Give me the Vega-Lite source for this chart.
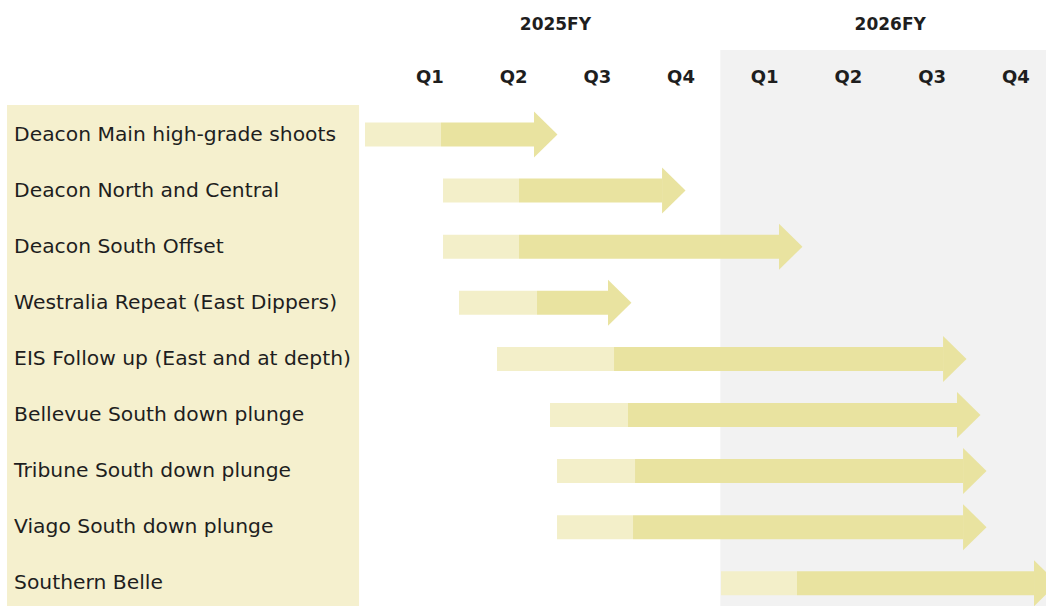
{
  "$schema": "https://vega.github.io/schema/vega-lite/v6.json",
  "width": 1046,
  "height": 606,
  "autosize": {"type": "none"},
  "padding": 0,
  "background": "white",
  "config": {"view": {"stroke": null}, "scale": {"continuousPadding": 0}},
  "datasets": {
    "tasks": [
      {"task": "Deacon Main high-grade shoots", "row": 0, "start": -0.275, "mid": 0.633, "end": 1.744},
      {"task": "Deacon North and Central", "row": 1, "start": 0.657, "mid": 1.565, "end": 3.274},
      {"task": "Deacon South Offset", "row": 2, "start": 0.657, "mid": 1.565, "end": 4.671},
      {"task": "Westralia Repeat (East Dippers)", "row": 3, "start": 0.848, "mid": 1.78, "end": 2.628},
      {"task": "EIS Follow up (East and at depth)", "row": 4, "start": 1.302, "mid": 2.7, "end": 6.631},
      {"task": "Bellevue South down plunge", "row": 5, "start": 1.935, "mid": 2.867, "end": 6.798},
      {"task": "Tribune South down plunge", "row": 6, "start": 2.019, "mid": 2.951, "end": 6.87},
      {"task": "Viago South  down plunge", "row": 7, "start": 2.019, "mid": 2.927, "end": 6.87},
      {"task": "Southern Belle", "row": 8, "start": 3.978, "mid": 4.886, "end": 7.718}
    ],
    "quarters": [
      {"q": "Q1", "pos": 0.5}, {"q": "Q2", "pos": 1.5}, {"q": "Q3", "pos": 2.5}, {"q": "Q4", "pos": 3.5},
      {"q": "Q1", "pos": 4.5}, {"q": "Q2", "pos": 5.5}, {"q": "Q3", "pos": 6.5}, {"q": "Q4", "pos": 7.5}
    ],
    "years": [
      {"fy": "2025FY", "pos": 2},
      {"fy": "2026FY", "pos": 6}
    ],
    "panels": [
      {"name": "forecast", "x0": 3.97, "x1": 7.861, "y0": -1.506, "y1": 8.405},
      {"name": "labels", "x0": -4.552, "x1": -0.346, "y0": -0.526, "y1": 8.405}
    ]
  },
  "layer": [
    {
      "data": {"name": "panels"},
      "mark": {"type": "rect"},
      "encoding": {
        "x": {"field": "x0", "type": "quantitative", "scale": {"domain": [-4.636, 7.861], "nice": false, "zero": false, "padding": 0}, "axis": null},
        "x2": {"field": "x1"},
        "y": {"field": "y0", "type": "quantitative", "scale": {"domain": [-2.398, 8.405], "nice": false, "zero": false, "reverse": true, "padding": 0}, "axis": null},
        "y2": {"field": "y1"},
        "color": {"field": "name", "type": "nominal", "scale": {"domain": ["forecast", "labels"], "range": ["#F2F2F2", "#F5F0CE"]}, "legend": null}
      }
    },
    {
      "data": {"name": "tasks"},
      "mark": {"type": "bar", "size": 24, "color": "#F3EFC9"},
      "encoding": {
        "x": {"field": "start", "type": "quantitative", "scale": {"domain": [-4.636, 7.861], "nice": false, "zero": false, "padding": 0}, "axis": null},
        "x2": {"field": "mid"},
        "y": {"field": "row", "type": "quantitative", "scale": {"domain": [-2.398, 8.405], "nice": false, "zero": false, "reverse": true, "padding": 0}, "axis": null}
      }
    },
    {
      "data": {"name": "tasks"},
      "mark": {"type": "bar", "size": 24, "color": "#E9E3A0"},
      "encoding": {
        "x": {"field": "mid", "type": "quantitative", "scale": {"domain": [-4.636, 7.861], "nice": false, "zero": false, "padding": 0}, "axis": null},
        "x2": {"field": "end"},
        "y": {"field": "row", "type": "quantitative", "scale": {"domain": [-2.398, 8.405], "nice": false, "zero": false, "reverse": true, "padding": 0}, "axis": null}
      }
    },
    {
      "data": {"name": "tasks"},
      "mark": {"type": "point", "shape": "M0,-1L1.02,0L0,1Z", "size": 2116, "filled": true, "opacity": 1, "color": "#E9E3A0", "strokeWidth": 0},
      "encoding": {
        "x": {"field": "end", "type": "quantitative", "scale": {"domain": [-4.636, 7.861], "nice": false, "zero": false, "padding": 0}, "axis": null},
        "y": {"field": "row", "type": "quantitative", "scale": {"domain": [-2.398, 8.405], "nice": false, "zero": false, "reverse": true, "padding": 0}, "axis": null}
      }
    },
    {
      "data": {"name": "tasks"},
      "mark": {"type": "text", "align": "left", "baseline": "middle", "font": "DejaVu Sans", "fontSize": 20.3, "color": "#1E1E1E"},
      "encoding": {
        "x": {"datum": -4.468, "type": "quantitative", "scale": {"domain": [-4.636, 7.861], "nice": false, "zero": false, "padding": 0}, "axis": null},
        "y": {"field": "row", "type": "quantitative", "scale": {"domain": [-2.398, 8.405], "nice": false, "zero": false, "reverse": true, "padding": 0}, "axis": null},
        "text": {"field": "task"}
      }
    },
    {
      "data": {"name": "quarters"},
      "mark": {"type": "text", "align": "center", "baseline": "middle", "font": "DejaVu Sans", "fontSize": 18, "fontWeight": "bold", "color": "#1E1E1E"},
      "encoding": {
        "x": {"field": "pos", "type": "quantitative", "scale": {"domain": [-4.636, 7.861], "nice": false, "zero": false, "padding": 0}, "axis": null},
        "y": {"datum": -1, "type": "quantitative", "scale": {"domain": [-2.398, 8.405], "nice": false, "zero": false, "reverse": true, "padding": 0}, "axis": null},
        "text": {"field": "q"}
      }
    },
    {
      "data": {"name": "years"},
      "mark": {"type": "text", "align": "center", "baseline": "middle", "font": "DejaVu Sans", "fontSize": 17, "fontWeight": "bold", "color": "#1E1E1E"},
      "encoding": {
        "x": {"field": "pos", "type": "quantitative", "scale": {"domain": [-4.636, 7.861], "nice": false, "zero": false, "padding": 0}, "axis": null},
        "y": {"datum": -1.95, "type": "quantitative", "scale": {"domain": [-2.398, 8.405], "nice": false, "zero": false, "reverse": true, "padding": 0}, "axis": null},
        "text": {"field": "fy"}
      }
    }
  ]
}
